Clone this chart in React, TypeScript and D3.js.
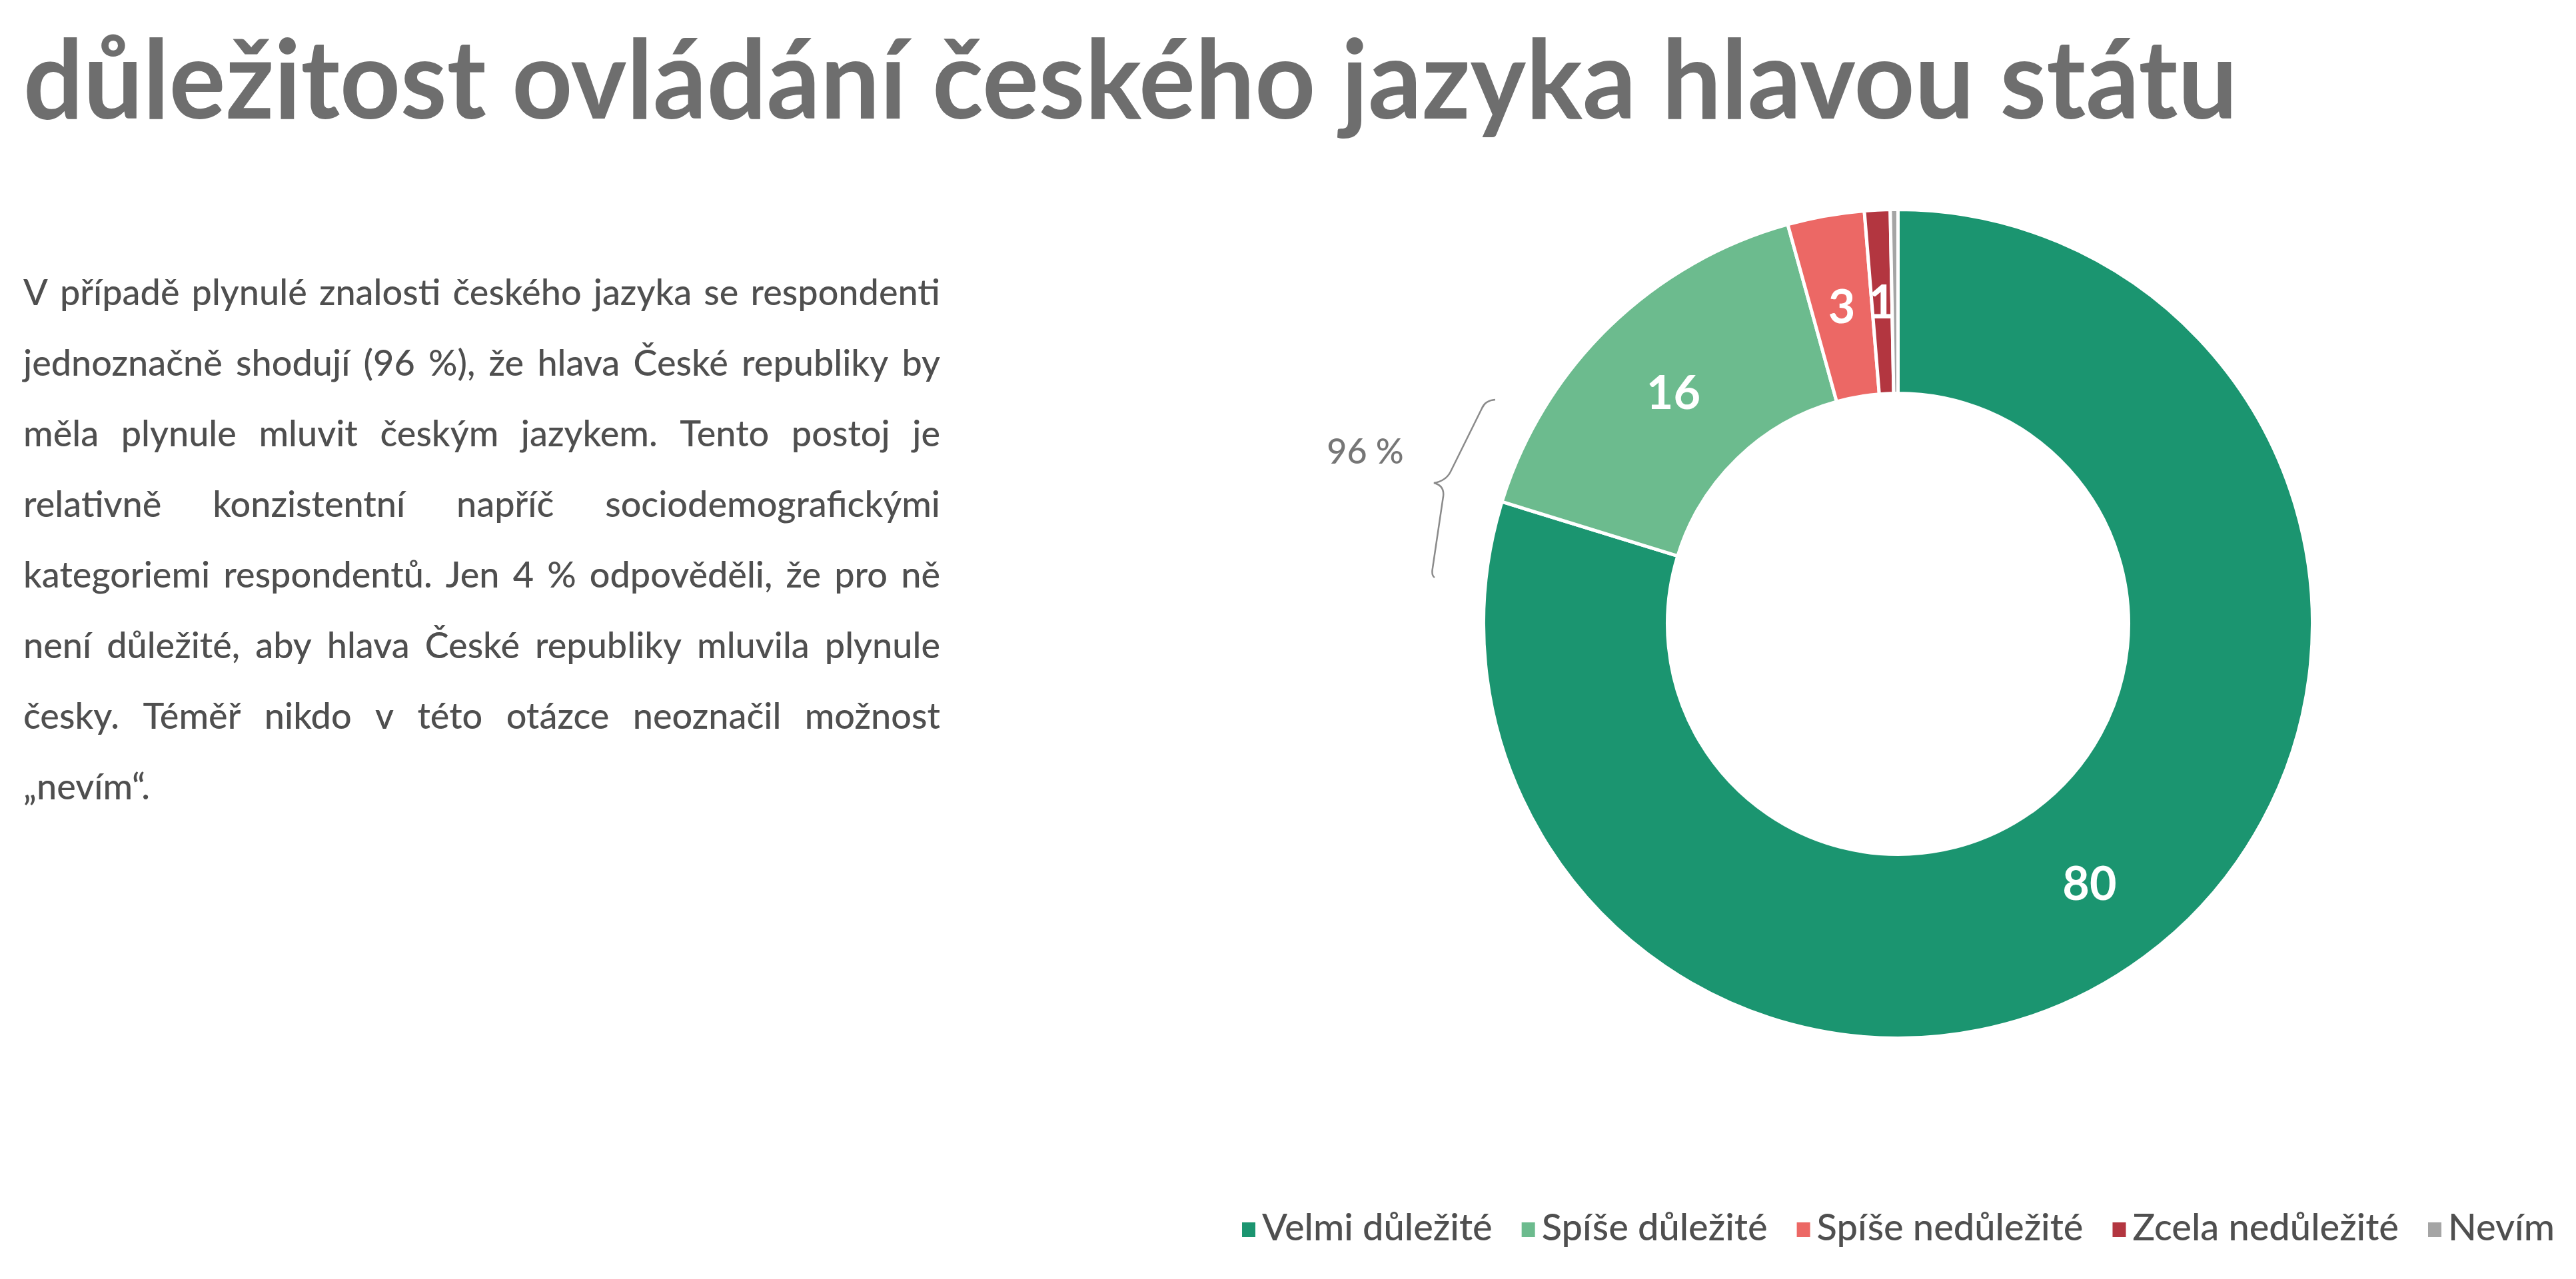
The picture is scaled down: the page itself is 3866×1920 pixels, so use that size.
import { useEffect, useRef } from "react";
import * as d3 from "d3";

const TITLE = "důležitost ovládání českého jazyka hlavou státu";

const PARAGRAPH = [
  "V případě plynulé znalosti českého jazyka se respondenti",
  "jednoznačně shodují (96 %), že hlava České republiky by",
  "měla plynule mluvit českým jazykem. Tento postoj je",
  "relativně konzistentní napříč sociodemografickými",
  "kategoriemi respondentů. Jen 4 % odpověděli, že pro ně",
  "není důležité, aby hlava České republiky mluvila plynule",
  "česky. Téměř nikdo v této otázce neoznačil možnost",
  "„nevím“.",
];

const CATEGORIES = ["Velmi důležité", "Spíše důležité", "Spíše nedůležité", "Zcela nedůležité", "Nevím"];
const VALUES = [80, 16, 3, 1, 0.3];
const LABELS = ["80", "16", "3", "1", ""];
const COLORS = ["#1b9570", "#6cbb8e", "#ec6865", "#b33640", "#a5a5a5"];
const BRACE_LABEL = "96 %";

const FONT = "Lato, 'Open Sans', sans-serif";

export default function App() {
  const ref = useRef<SVGSVGElement | null>(null);

  useEffect(() => {
    if (!ref.current) return;
    document.body.style.margin = "0";

    const draw = () => {
      const svg = d3.select(ref.current);
      svg.selectAll("*").remove();
      svg.attr("width", 3866).attr("height", 1920);

      svg.append("rect").attr("width", 3866).attr("height", 1920).attr("fill", "#fff");

      // title
      svg
        .append("text")
        .attr("x", 35)
        .attr("y", 178)
        .attr("font-family", FONT)
        .attr("font-weight", 700)
        .attr("font-size", 165)
        .attr("fill", "#6e6e6e")
        .attr("textLength", 3323)
        .attr("lengthAdjust", "spacingAndGlyphs")
        .text(TITLE);

      // paragraph, justified by hand
      const left = 35;
      const right = 1411;
      const measure = (s: string, fs: number, weight = 400) => {
        const t = svg
          .append("text")
          .attr("font-family", FONT)
          .attr("font-size", fs)
          .attr("font-weight", weight)
          .text(s);
        const w = (t.node() as SVGTextElement).getComputedTextLength();
        t.remove();
        return w;
      };
      const pw = 500;
      let pfs = (50 * (right - left - 8)) / measure(PARAGRAPH[0], 50, pw);
      pfs = Math.max(44, Math.min(54, pfs));

      const para = svg
        .append("g")
        .attr("font-family", FONT)
        .attr("font-size", pfs)
        .attr("font-weight", pw)
        .attr("fill", "#4f4f4f");
      PARAGRAPH.forEach((line, i) => {
        const y = 458 + i * 106;
        const words = line.split(" ");
        if (i === PARAGRAPH.length - 1 || words.length < 2) {
          para.append("text").attr("x", left).attr("y", y).text(line);
          return;
        }
        const widths = words.map((w) => measure(w, pfs, pw));
        const total = d3.sum(widths);
        const gap = (right - left - total) / (words.length - 1);
        let x = left;
        words.forEach((w, j) => {
          para.append("text").attr("x", x).attr("y", y).text(w);
          x += widths[j] + gap;
        });
      });

      // donut
      const cx = 2848.5;
      const cy = 936.5;
      const rOuter = 622;
      const rInner = 346;
      const pie = d3.pie<number>().sort(null).value((d) => d);
      const arcs = pie(VALUES);
      const arc = d3.arc<d3.PieArcDatum<number>>().innerRadius(rInner).outerRadius(rOuter);

      const g = svg.append("g").attr("transform", `translate(${cx},${cy})`);
      g.selectAll("path")
        .data(arcs)
        .join("path")
        .attr("d", arc as any)
        .attr("fill", (_, i) => COLORS[i])
        .attr("stroke", "#fff")
        .attr("stroke-width", 5);

      g.selectAll("text.lbl")
        .data(arcs)
        .join("text")
        .attr("class", "lbl")
        .attr("transform", (d) => `translate(${arc.centroid(d)})`)
        .attr("text-anchor", "middle")
        .attr("dy", "0.36em")
        .attr("font-family", FONT)
        .attr("font-weight", 700)
        .attr("font-size", 70)
        .attr("fill", "#fff")
        .text((_, i) => LABELS[i]);

      // brace with 96 %
      svg
        .append("path")
        .attr(
          "d",
          "M2244,600 Q2229,601 2224,613 L2177,708 Q2170,722 2152,725 Q2168,729 2166,745 L2150,853 Q2148,864 2153,867"
        )
        .attr("fill", "none")
        .attr("stroke", "#8a8a8a")
        .attr("stroke-width", 2.5);

      svg
        .append("text")
        .attr("x", 2049)
        .attr("y", 677)
        .attr("dy", "0.36em")
        .attr("text-anchor", "middle")
        .attr("font-family", FONT)
        .attr("font-size", 52)
        .attr("font-weight", 500)
        .attr("fill", "#767676")
        .text(BRACE_LABEL);

      // legend, right aligned
      let lfs = (48 * 352) / measure(CATEGORIES[0], 48, 500);
      lfs = Math.max(44, Math.min(56, lfs));
      const lw = CATEGORIES.map((c) => measure(c, lfs, 500));
      const markerW = 20;
      const textOff = 30;
      const itemGap = 44;
      const totalW = d3.sum(lw) + CATEGORIES.length * textOff + (CATEGORIES.length - 1) * itemGap;
      let lx = 3834 - totalW;
      const legend = svg
        .append("g")
        .attr("font-family", FONT)
        .attr("font-size", lfs)
        .attr("font-weight", 500)
        .attr("fill", "#4f4f4f");
      CATEGORIES.forEach((c, i) => {
        legend.append("rect").attr("x", lx).attr("y", 1835).attr("width", markerW).attr("height", 22).attr("fill", COLORS[i]);
        legend.append("text").attr("x", lx + textOff).attr("y", 1862).text(c);
        lx += textOff + lw[i] + itemGap;
      });
    };

    if ((document as any).fonts && (document as any).fonts.ready) {
      (document as any).fonts.ready.then(draw);
    } else {
      draw();
    }
  }, []);

  return <svg ref={ref} style={{ position: "absolute", left: 0, top: 0, display: "block" }} />;
}
